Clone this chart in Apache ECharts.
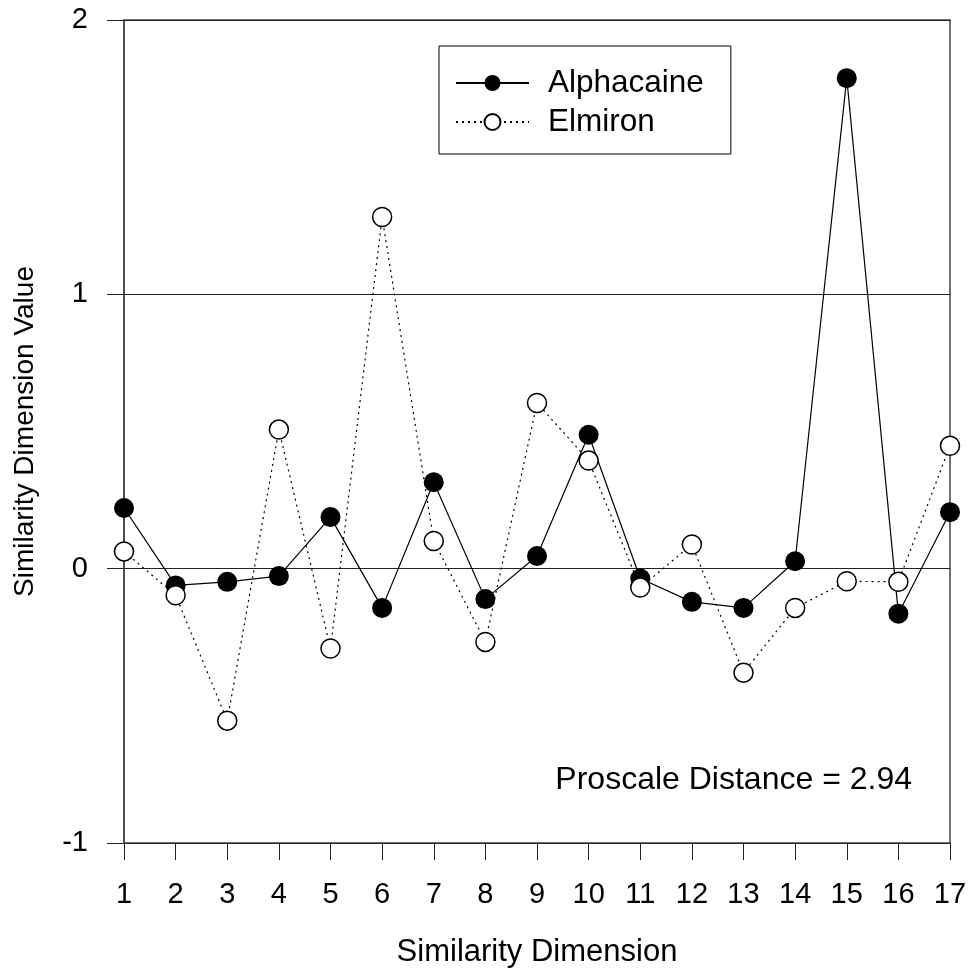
<!DOCTYPE html>
<html>
<head>
<meta charset="utf-8">
<script src="https://cdn.jsdelivr.net/npm/echarts@6/dist/echarts.min.js"></script>
<style>
  html, body { margin: 0; padding: 0; background: #fff; }
  #chart { width: 975px; height: 973px; }
</style>
</head>
<body>
<div id="chart"></div>
<script>
// similarity dimensions 1..17
const dimensions = [1, 2, 3, 4, 5, 6, 7, 8, 9, 10, 11, 12, 13, 14, 15, 16, 17]
const alphacaine = [0.221, -0.061, -0.048, -0.027, 0.188, -0.143, 0.315, -0.111, 0.046,
  0.488, -0.036, -0.121, -0.143, 0.027, 1.788, -0.164, 0.206]
const elmiron = [0.063, -0.097, -0.554, 0.507, -0.291, 1.282, 0.101, -0.267, 0.604,
  0.394, -0.069, 0.088, -0.379, -0.143, -0.046, -0.048, 0.448]
const proscaleText = 'Proscale Distance = 2.94'

const FONT = '"Liberation Sans", Arial, sans-serif'

const chart = echarts.init(document.getElementById('chart'))

const toPairs = (vals) => vals.map((v, i) => [dimensions[i], v])

chart.setOption({
  animation: false,
  textStyle: { fontFamily: FONT, color: '#000' },
  grid: {
    left: 124, right: 25, top: 20, bottom: 128,
    show: true, borderColor: '#444', borderWidth: 1.5, backgroundColor: 'transparent'
  },
  legend: {
    left: 439, top: 46,
    orient: 'vertical',
    borderColor: '#000', borderWidth: 1,
    padding: [21, 27, 16, 16],
    itemWidth: 73, itemHeight: 20, itemGap: 7,
    textStyle: { fontSize: 31.5, fontFamily: FONT, color: '#000', padding: [0, 0, 0, 14], lineHeight: 20 },
    data: ['Alphacaine', 'Elmiron']
  },
  xAxis: {
    type: 'value', min: 1, max: 17, interval: 1,
    name: 'Similarity Dimension', nameLocation: 'middle', nameGap: 94,
    nameTextStyle: { fontSize: 31, fontFamily: FONT, color: '#000' },
    axisLine: { onZero: false, lineStyle: { color: '#222', width: 1 } },
    axisTick: { show: true, inside: false, length: 17, lineStyle: { color: '#222' } },
    axisLabel: { fontSize: 29, margin: 37, color: '#000' },
    splitLine: { show: false }
  },
  yAxis: {
    type: 'value', min: -1, max: 2, interval: 1,
    name: 'Similarity Dimension Value', nameLocation: 'middle', nameGap: 85,
    nameTextStyle: { fontSize: 28, fontFamily: FONT, color: '#000' },
    axisLine: { show: true, lineStyle: { color: '#444', width: 1.5 } },
    axisTick: { show: true, inside: false, length: 17, lineStyle: { color: '#222' } },
    axisLabel: { fontSize: 29, margin: 36, color: '#000' },
    splitLine: { show: true, lineStyle: { color: '#222', width: 1 } }
  },
  graphic: [{
    type: 'text', right: 63, top: 764,
    style: { text: proscaleText, fontSize: 32, fontFamily: FONT, fill: '#000' }
  }],
  series: [
    {
      name: 'Alphacaine', type: 'line',
      data: toPairs(alphacaine),
      symbol: 'circle', symbolSize: 20,
      itemStyle: { color: '#000', borderColor: '#000', borderWidth: 0 },
      lineStyle: { color: '#000', width: 1.2 }
    },
    {
      name: 'Elmiron', type: 'line',
      data: toPairs(elmiron),
      symbol: 'circle', symbolSize: 19,
      itemStyle: { color: '#fff', borderColor: '#000', borderWidth: 1.5 },
      lineStyle: { color: '#000', width: 1.2, type: [2, 4] }
    }
  ]
})
</script>
</body>
</html>
